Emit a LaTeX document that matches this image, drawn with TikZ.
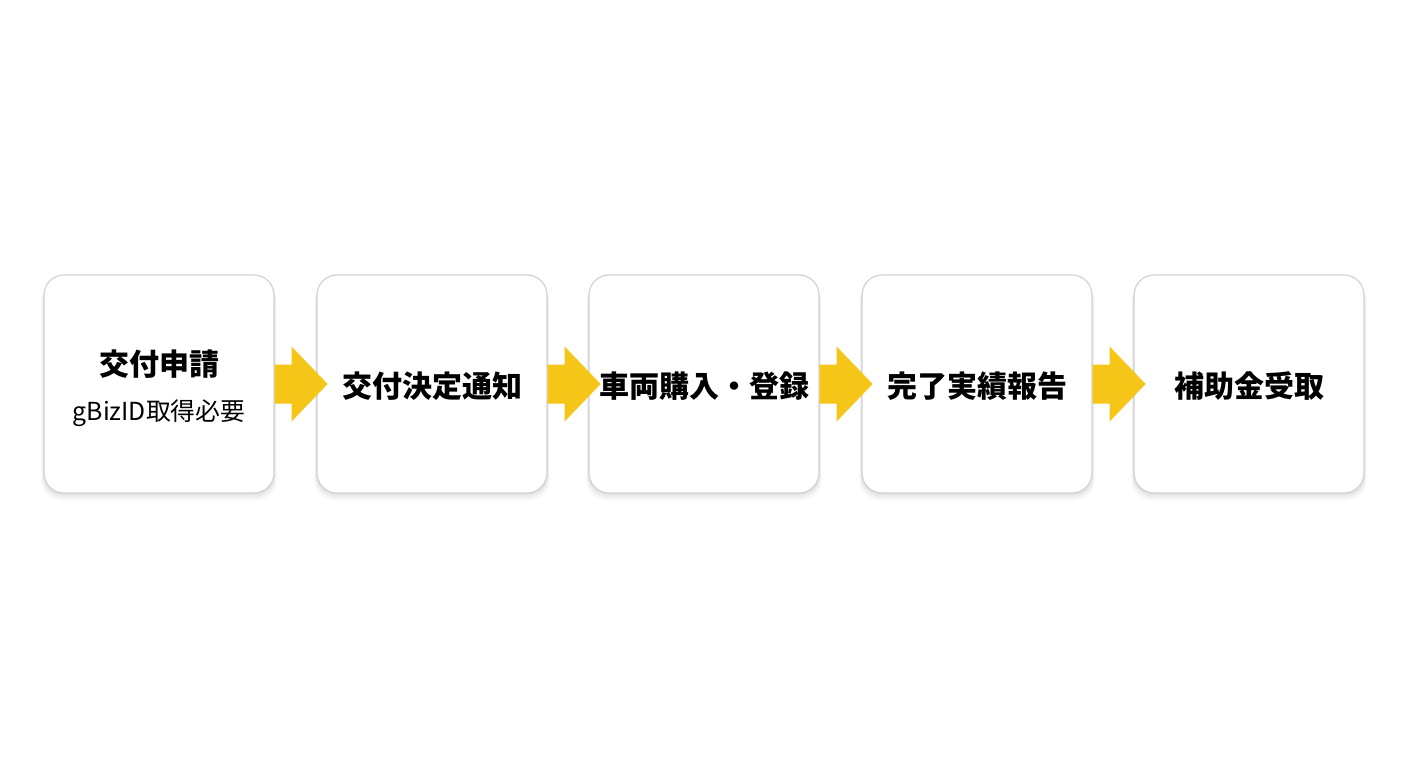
\documentclass[tikz,border=0pt]{standalone}
\usepackage{fontspec}
\setmainfont{Noto Sans CJK JP}
\newfontfamily\jpfont{Noto Sans CJK JP}
\usetikzlibrary{positioning,calc}
\definecolor{arrowyellow}{HTML}{F5C518}
\definecolor{boxborder}{HTML}{D2D2D2}
\tikzset{
  stepbox/.style={draw=boxborder, line width=0.9pt, fill=white, rounded corners=15pt, minimum width=172.5pt, minimum height=163.5pt, inner sep=0pt},
  shadowbox/.style={fill=black, rounded corners=15pt, minimum width=172.5pt, minimum height=163.5pt, inner sep=0pt, draw=none},
  titletext/.style={font=\jpfont\bfseries\fontsize{22.5}{26}\selectfont},
  subtext/.style={font=\jpfont\fontsize{18.6}{22}\selectfont},
  flowarrow/.style={fill=arrowyellow, draw=none}
}
\begin{document}
\begin{tikzpicture}[x=0.75pt,y=-0.75pt]
\useasboundingbox (0,0) rectangle (1408,768);
\fill[white] (0,0) rectangle (1408,768);
% centres
\foreach \cx/\nm in {159/s1,432/s2,704/s3,977/s4,1249/s5}{
  \foreach \d/\o in {2/0.035,4/0.03,6/0.025,8/0.02}{
    \node[shadowbox, opacity=\o, minimum width=172.5pt+\d*0.5pt, minimum height=163.5pt] at (\cx,384+\d) {};
  }
}
\node[stepbox] (s1) at (159,384) {};
\node[stepbox] (s2) at (432,384) {};
\node[stepbox] (s3) at (704,384) {};
\node[stepbox] (s4) at (977,384) {};
\node[stepbox] (s5) at (1249,384) {};
\node[titletext] (t1) at (159,364) {交付申請};
\node[subtext] (u1) at (159,413) {gBizID取得必要};
\node[titletext] (t2) at (432,386) {交付決定通知};
\node[titletext] (t3) at (704,386) {車両購入・登録};
\node[titletext] (t4) at (977,386) {完了実績報告};
\node[titletext] (t5) at (1249,386) {補助金受取};
% arrows
\foreach \a/\b in {s1/s2,s2/s3,s3/s4,s4/s5}{
  \path (\a.east) coordinate (st);
  \fill[flowarrow] ($(st)+(0,-19.5)$) -- ++(17,0) -- ++(0,-18) -- ++(36,37.5) -- ++(-36,37.5) -- ++(0,-18) -- ++(-17,0) -- cycle;
}
\end{tikzpicture}
\end{document}
